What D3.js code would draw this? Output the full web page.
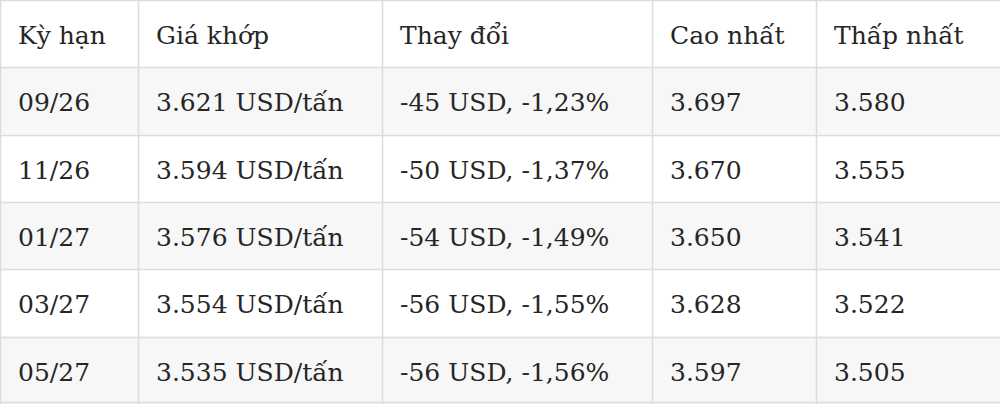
<!DOCTYPE html>
<html>
<head>
<meta charset="utf-8">
<script src="https://cdn.jsdelivr.net/npm/d3@7"></script>
<style>
  body { margin: 0; background: #fff; }
  svg { display: block; }
</style>
</head>
<body>
<svg id="table"></svg>
<script>
// table data
let headers = ["Kỳ hạn", "Giá khớp", "Thay đổi", "Cao nhất", "Thấp nhất"];
let terms = ["09/26", "11/26", "01/27", "03/27", "05/27"];
let prices = ["3.621", "3.594", "3.576", "3.554", "3.535"];
let changeUsd = ["-45", "-50", "-54", "-56", "-56"];
let changePct = ["-1,23", "-1,37", "-1,49", "-1,55", "-1,56"];
let highs = ["3.697", "3.670", "3.650", "3.628", "3.597"];
let lows = ["3.580", "3.555", "3.541", "3.522", "3.505"];

let width = 1000;
let height = 404;

let rows = terms.map((t, i) => [
  t,
  prices[i] + " USD/tấn",
  changeUsd[i] + " USD, " + changePct[i] + "%",
  highs[i],
  lows[i]
]);

let svg = d3.select("#table")
  .attr("width", width)
  .attr("height", height);

// row positions: header + data rows
let y = d3.scaleBand()
  .domain(d3.range(rows.length + 1))
  .range([0, height]);

// column edges
let colEdges = [0, 138, 382, 652, 816, width];
let x = d3.scaleOrdinal()
  .domain(d3.range(headers.length))
  .range(colEdges.slice(0, -1));

// striped rows (odd data rows grey)
svg.selectAll("rect.band")
  .data(d3.range(rows.length + 1))
  .join("rect")
  .attr("class", "band")
  .attr("x", 0)
  .attr("y", d => y(d))
  .attr("width", width)
  .attr("height", y.bandwidth())
  .style("fill", d => d % 2 === 1 ? "#f7f7f7" : "#ffffff");

// horizontal grid lines
svg.selectAll("line.h")
  .data(d3.range(rows.length + 2))
  .join("line")
  .attr("class", "h")
  .attr("x1", 0)
  .attr("x2", width)
  .attr("y1", d => Math.min(Math.round(d * y.step()) + 0.5, height - 1.5))
  .attr("y2", d => Math.min(Math.round(d * y.step()) + 0.5, height - 1.5))
  .style("stroke", "#dcdcdc")
  .style("stroke-width", 1.5);

// vertical grid lines
svg.selectAll("line.v")
  .data(colEdges.slice(0, -1))
  .join("line")
  .attr("class", "v")
  .attr("x1", d => d + 0.5)
  .attr("x2", d => d + 0.5)
  .attr("y1", 0)
  .attr("y2", height)
  .style("stroke", "#dcdcdc")
  .style("stroke-width", 1.5);

let allRows = [headers].concat(rows);

let rowG = svg.selectAll("g.row")
  .data(allRows)
  .join("g")
  .attr("class", "row")
  .attr("transform", (d, i) => `translate(0, ${y(i)})`);

rowG.selectAll("text")
  .data(d => d)
  .join("text")
  .attr("x", (d, j) => x(j) + 18)
  .attr("y", 44)
  .style("font-family", "'DejaVu Serif', 'Liberation Serif', serif")
  .style("font-size", "25px")
  .style("fill", "#262626")
  .text(d => d);
</script>
</body>
</html>
